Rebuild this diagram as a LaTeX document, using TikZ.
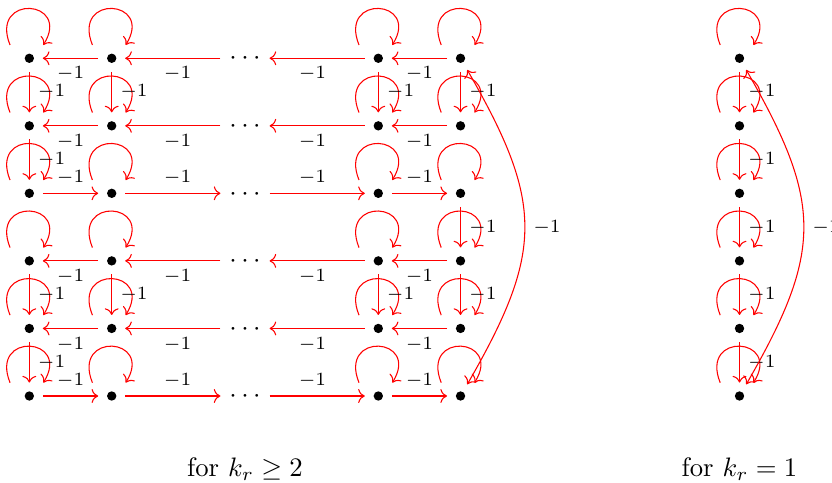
\documentclass[tikz,border=0pt]{standalone}
\usetikzlibrary{arrows.meta}
\begin{document}
\begin{tikzpicture}[>={Computer Modern Rightarrow},
  dot/.style={circle, fill, inner sep=0pt, minimum size=3.5pt, outer sep=3.3pt},
  dotsnode/.style={inner sep=0pt, minimum width=18pt, text height=5pt, text depth=0pt},
  arr/.style={red, ->},
  lab/.style={font=\scriptsize, inner sep=3pt, text=black},
  selfloop/.style={to path={([shift={(-0.254,0.175)}]\tikztostart.center) .. controls +(112:0.73) and +(58:0.71) .. ([shift={(0.184,0.175)}]\tikztotarget.center)}}]
  \useasboundingbox (-0.386,-1.132) rectangle (10.562,5.211);
  % grid for k_r >= 2
  \node[dot] (v11) at (0,4.444) {};
  \node[dot] (v12) at (1.084,4.444) {};
  \node[dotsnode] (d1) at (2.838,4.444) {$\cdots$};
  \node[dot] (v13) at (4.592,4.444) {};
  \node[dot] (v14) at (5.674,4.444) {};
  \node[dot] (v21) at (0,3.555) {};
  \node[dot] (v22) at (1.084,3.555) {};
  \node[dotsnode] (d2) at (2.838,3.555) {$\cdots$};
  \node[dot] (v23) at (4.592,3.555) {};
  \node[dot] (v24) at (5.674,3.555) {};
  \node[dot] (v31) at (0,2.667) {};
  \node[dot] (v32) at (1.084,2.667) {};
  \node[dotsnode] (d3) at (2.838,2.667) {$\cdots$};
  \node[dot] (v33) at (4.592,2.667) {};
  \node[dot] (v34) at (5.674,2.667) {};
  \node[dot] (v41) at (0,1.778) {};
  \node[dot] (v42) at (1.084,1.778) {};
  \node[dotsnode] (d4) at (2.838,1.778) {$\cdots$};
  \node[dot] (v43) at (4.592,1.778) {};
  \node[dot] (v44) at (5.674,1.778) {};
  \node[dot] (v51) at (0,0.889) {};
  \node[dot] (v52) at (1.084,0.889) {};
  \node[dotsnode] (d5) at (2.838,0.889) {$\cdots$};
  \node[dot] (v53) at (4.592,0.889) {};
  \node[dot] (v54) at (5.674,0.889) {};
  \node[dot] (v61) at (0,0) {};
  \node[dot] (v62) at (1.084,0) {};
  \node[dotsnode] (d6) at (2.838,0) {$\cdots$};
  \node[dot] (v63) at (4.592,0) {};
  \node[dot] (v64) at (5.674,0) {};
  % column for k_r = 1
  \node[dot] (w1) at (9.345,4.444) {};
  \node[dot] (w2) at (9.345,3.555) {};
  \node[dot] (w3) at (9.345,2.667) {};
  \node[dot] (w4) at (9.345,1.778) {};
  \node[dot] (w5) at (9.345,0.889) {};
  \node[dot] (w6) at (9.345,0) {};
  % self loops
  \draw[arr] (v11) edge[selfloop] (v11) (v12) edge[selfloop] (v12) (v13) edge[selfloop] (v13) (v14) edge[selfloop] (v14);
  \draw[arr] (v21) edge[selfloop] (v21) (v22) edge[selfloop] (v22) (v23) edge[selfloop] (v23) (v24) edge[selfloop] (v24);
  \draw[arr] (v31) edge[selfloop] (v31) (v32) edge[selfloop] (v32) (v33) edge[selfloop] (v33) (v34) edge[selfloop] (v34);
  \draw[arr] (v41) edge[selfloop] (v41) (v42) edge[selfloop] (v42) (v43) edge[selfloop] (v43) (v44) edge[selfloop] (v44);
  \draw[arr] (v51) edge[selfloop] (v51) (v52) edge[selfloop] (v52) (v53) edge[selfloop] (v53) (v54) edge[selfloop] (v54);
  \draw[arr] (v61) edge[selfloop] (v61) (v62) edge[selfloop] (v62) (v63) edge[selfloop] (v63) (v64) edge[selfloop] (v64);
  \draw[arr] (w1) edge[selfloop] (w1) (w2) edge[selfloop] (w2) (w3) edge[selfloop] (w3) (w4) edge[selfloop] (w4) (w5) edge[selfloop] (w5) (w6) edge[selfloop] (w6);
  % rows
  \draw[arr] (v12) edge node[lab, below]{$-1$} (v11) (d1) edge node[lab, below, pos=.45]{$-1$} (v12) (v13) edge node[lab, below, pos=.55]{$-1$} (d1) (v14) edge node[lab, below]{$-1$} (v13);
  \draw[arr] (v22) edge node[lab, below]{$-1$} (v21) (d2) edge node[lab, below, pos=.45]{$-1$} (v22) (v23) edge node[lab, below, pos=.55]{$-1$} (d2) (v24) edge node[lab, below]{$-1$} (v23);
  \draw[arr] (v31) edge node[lab, above]{$-1$} (v32) (v32) edge node[lab, above, pos=.55]{$-1$} (d3) (d3) edge node[lab, above, pos=.45]{$-1$} (v33) (v33) edge node[lab, above]{$-1$} (v34);
  \draw[arr] (v42) edge node[lab, below]{$-1$} (v41) (d4) edge node[lab, below, pos=.45]{$-1$} (v42) (v43) edge node[lab, below, pos=.55]{$-1$} (d4) (v44) edge node[lab, below]{$-1$} (v43);
  \draw[arr] (v52) edge node[lab, below]{$-1$} (v51) (d5) edge node[lab, below, pos=.45]{$-1$} (v52) (v53) edge node[lab, below, pos=.55]{$-1$} (d5) (v54) edge node[lab, below]{$-1$} (v53);
  \draw[arr] (v61) edge node[lab, above]{$-1$} (v62) (v62) edge node[lab, above, pos=.55]{$-1$} (d6) (d6) edge node[lab, above, pos=.45]{$-1$} (v63) (v63) edge node[lab, above]{$-1$} (v64);
  % columns
  \draw[arr] (v11) edge node[lab, right]{$-1$} (v21) (v21) edge node[lab, right]{$-1$} (v31) (v41) edge node[lab, right]{$-1$} (v51) (v51) edge node[lab, right]{$-1$} (v61);
  \draw[arr] (v12) edge node[lab, right]{$-1$} (v22) (v42) edge node[lab, right]{$-1$} (v52);
  \draw[arr] (v13) edge node[lab, right]{$-1$} (v23) (v43) edge node[lab, right]{$-1$} (v53);
  \draw[arr] (v14) edge node[lab, right]{$-1$} (v24) (v34) edge node[lab, right]{$-1$} (v44) (v44) edge node[lab, right]{$-1$} (v54);
  \draw[arr] (w1) edge node[lab, right]{$-1$} (w2) (w2) edge node[lab, right]{$-1$} (w3) (w3) edge node[lab, right]{$-1$} (w4) (w4) edge node[lab, right]{$-1$} (w5) (w5) edge node[lab, right]{$-1$} (w6);
  % long arcs
  \draw[arr, <->] (v14) to[bend left=30, looseness=1.25] node[lab, right]{$-1$} (v64);
  \draw[arr, <->] (w1) to[bend left=30, looseness=1.25] node[lab, right]{$-1$} (w6);
  \node[anchor=base] (cap1) at (2.838,-1.059) {for $k_r \geq 2$};
  \node[anchor=base] (cap2) at (9.345,-1.059) {for $k_r = 1$};
\end{tikzpicture}
\end{document}
